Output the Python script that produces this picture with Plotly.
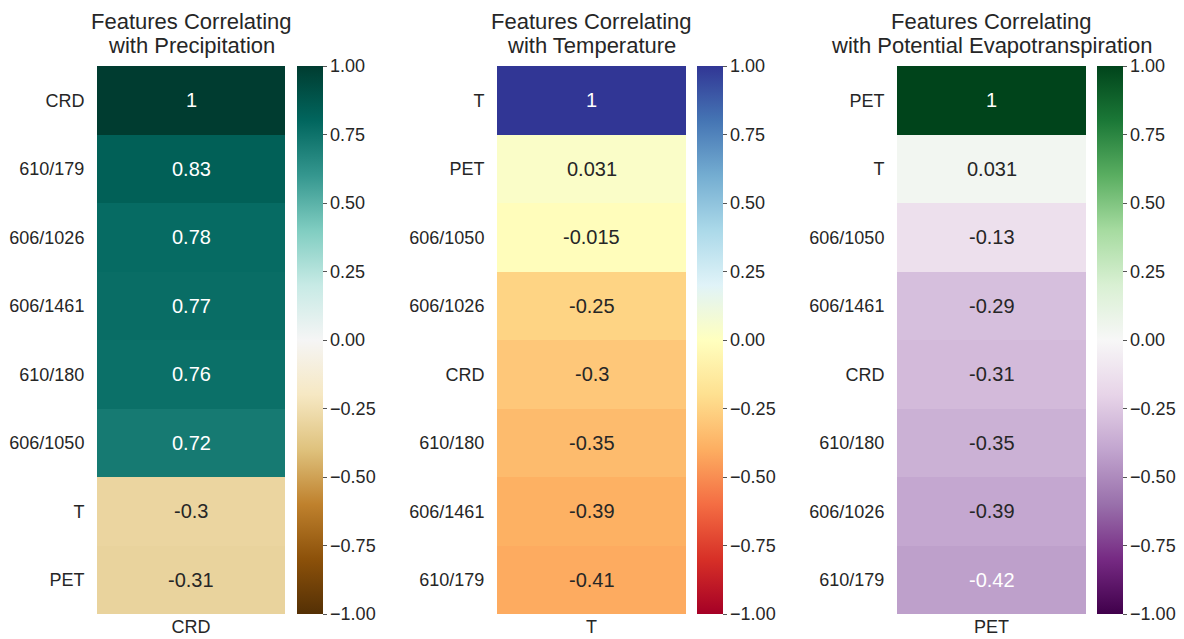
import plotly.graph_objects as go
from plotly.colors import sample_colorscale, unlabel_rgb

# ---------------- data ----------------
precip_labels = ["CRD", "610/179", "606/1026", "606/1461", "610/180", "606/1050", "T", "PET"]
precip_values = [1, 0.83, 0.78, 0.77, 0.76, 0.72, -0.3, -0.31]

temp_labels = ["T", "PET", "606/1050", "606/1026", "CRD", "610/180", "606/1461", "610/179"]
temp_values = [1, 0.031, -0.015, -0.25, -0.3, -0.35, -0.39, -0.41]

pet_labels = ["PET", "T", "606/1050", "606/1461", "CRD", "610/180", "606/1026", "610/179"]
pet_values = [1, 0.031, -0.13, -0.29, -0.31, -0.35, -0.39, -0.42]

title_lines = [("Features Correlating", "with Precipitation"),
               ("Features Correlating", "with Temperature"),
               ("Features Correlating", "with Potential Evapotranspiration")]
columns = ["CRD", "T", "PET"]
colorscales = ["BrBG", "RdYlBu", "PRGn"]
cbar_ticks = [-1, -0.75, -0.5, -0.25, 0, 0.25, 0.5, 0.75, 1]

panels = [(precip_labels, precip_values), (temp_labels, temp_values), (pet_labels, pet_values)]

# ---------------- layout geometry ----------------
W, H = 1184, 639
heat_x = [(97, 285), (497, 686), (897, 1086)]
cbar_x = [297, 697, 1097]
top, bottom = 66, 614
FONT = "Arial, Liberation Sans, sans-serif"
DARK = "#262626"


def rel_lum(rgb):
    out = []
    for c in rgb:
        c = c / 255.0
        out.append(c / 12.92 if c <= 0.03928 else ((c + 0.055) / 1.055) ** 2.4)
    return 0.2126 * out[0] + 0.7152 * out[1] + 0.0722 * out[2]


fig = go.Figure()
annotations = []
layout_axes = {}

for i, ((labels, values), col, cs, tl) in enumerate(zip(panels, columns, colorscales, title_lines)):
    n = i + 1
    xa = "x" if n == 1 else f"x{n}"
    ya = "y" if n == 1 else f"y{n}"
    fig.add_trace(go.Heatmap(
        z=[[v] for v in values],
        x=[col],
        y=labels,
        colorscale=cs,
        zmin=-1, zmax=1,
        xaxis=xa, yaxis=ya,
        hoverinfo="skip",
        colorbar=dict(
            x=cbar_x[i] / W, xanchor="left", xref="paper",
            y=(H - (top + bottom) / 2) / H, yanchor="middle",
            len=bottom - top, lenmode="pixels",
            thickness=26, thicknessmode="pixels",
            outlinewidth=0, xpad=0, ypad=0,
            tickvals=cbar_ticks, tickformat=".2f",
            ticks="outside", ticklen=4, tickwidth=1, tickcolor="#555555",
            tickfont=dict(family=FONT, size=18, color=DARK),
        ),
    ))
    x0, x1 = heat_x[i]
    layout_axes[f"xaxis{n if n > 1 else ''}"] = dict(
        domain=[x0 / W, x1 / W], anchor=ya, showgrid=False, zeroline=False,
        ticks="", automargin=False,
        tickfont=dict(family=FONT, size=18, color=DARK), showline=False,
    )
    layout_axes[f"yaxis{n if n > 1 else ''}"] = dict(
        domain=[(H - bottom) / H, (H - top) / H], anchor=xa, showgrid=False,
        zeroline=False, autorange="reversed", automargin=False,
        ticks="outside", ticklen=8, tickcolor="rgba(0,0,0,0)",
        tickfont=dict(family=FONT, size=18, color=DARK), showline=False,
    )
    # cell labels with seaborn-like contrast rule
    for lab, v in zip(labels, values):
        rgb = unlabel_rgb(sample_colorscale(cs, [(v + 1) / 2])[0])
        color = DARK if rel_lum(rgb) > 0.408 else "white"
        annotations.append(dict(
            x=col, y=lab, xref=xa, yref=ya, text=format(v, ".2g"),
            showarrow=False, font=dict(family=FONT, size=20, color=color),
        ))
    # two-line title
    for k, (line, yc) in enumerate(zip(tl, (21, 45))):
        annotations.append(dict(
            x=(x0 + x1) / 2 / W, y=(H - yc) / H, xref="paper", yref="paper",
            xanchor="center", yanchor="middle", text=line, showarrow=False,
            font=dict(family=FONT, size=22, color=DARK),
        ))

fig.update_layout(
    width=W, height=H,
    margin=dict(l=0, r=0, t=0, b=0, autoexpand=False),
    paper_bgcolor="white", plot_bgcolor="white",
    annotations=annotations,
    showlegend=False,
    **layout_axes,
)

fig.write_html("out.html", config={"displayModeBar": False})
with open("out.html", "r", encoding="utf-8") as f:
    html = f.read()
html = html.replace("<head>", "<head><style>html,body{margin:0;padding:0;overflow:hidden;}</style>", 1)
with open("out.html", "w", encoding="utf-8") as f:
    f.write(html)
